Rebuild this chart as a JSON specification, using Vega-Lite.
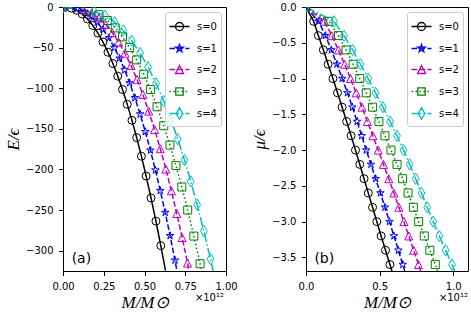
{
  "$schema": "https://vega.github.io/schema/vega-lite/v6.json",
  "background": "white",
  "padding": {"left": 4, "top": 1, "right": 0, "bottom": 0},
  "config": {
    "view": {"stroke": "black", "strokeWidth": 1},
    "axis": {"grid": false, "domain": false, "tickColor": "black", "tickSize": 4.5, "tickWidth": 1, "tickCount": 20, "labelFont": "DejaVu Sans", "labelFontSize": 10, "labelColor": "black", "labelPadding": 5.5, "labelFlush": false, "labelOverlap": false, "titleFont": "Liberation Serif", "titleFontStyle": "italic", "titleFontWeight": "normal", "titleFontSize": 17, "titleColor": "black", "titlePadding": 3}
  },
  "datasets": {
    "d": [
      {"s":"s=0","M":0,"mu":0,"E":0},{"s":"s=0","M":0.052,"mu":-0.2,"E":-1.4},{"s":"s=0","M":0.084,"mu":-0.4,"E":-4.0},{"s":"s=0","M":0.118,"mu":-0.6,"E":-8.6},{"s":"s=0","M":0.150,"mu":-0.8,"E":-14.7},{"s":"s=0","M":0.183,"mu":-1.0,"E":-22.8},{"s":"s=0","M":0.214,"mu":-1.2,"E":-32.1},{"s":"s=0","M":0.245,"mu":-1.4,"E":-43.1},{"s":"s=0","M":0.276,"mu":-1.6,"E":-55.7},{"s":"s=0","M":0.306,"mu":-1.8,"E":-69.6},{"s":"s=0","M":0.336,"mu":-2.0,"E":-85.1},{"s":"s=0","M":0.365,"mu":-2.2,"E":-101.6},{"s":"s=0","M":0.394,"mu":-2.4,"E":-119.8},{"s":"s=0","M":0.423,"mu":-2.6,"E":-139.5},{"s":"s=0","M":0.452,"mu":-2.8,"E":-160.8},{"s":"s=0","M":0.481,"mu":-3.0,"E":-183.7},{"s":"s=0","M":0.510,"mu":-3.2,"E":-208.1},{"s":"s=0","M":0.540,"mu":-3.4,"E":-235.1},{"s":"s=0","M":0.570,"mu":-3.6,"E":-263.6},{"s":"s=0","M":0.600,"mu":-3.8,"E":-293.8},{"s":"s=0","M":0.629,"mu":-4.0,"E":-324.6},
      {"s":"s=1","M":0,"mu":0,"E":0},{"s":"s=1","M":0.085,"mu":-0.2,"E":-2.3},{"s":"s=1","M":0.132,"mu":-0.4,"E":-6.1},{"s":"s=1","M":0.172,"mu":-0.6,"E":-11.6},{"s":"s=1","M":0.210,"mu":-0.8,"E":-18.8},{"s":"s=1","M":0.246,"mu":-1.0,"E":-27.6},{"s":"s=1","M":0.281,"mu":-1.2,"E":-38.1},{"s":"s=1","M":0.315,"mu":-1.4,"E":-50.1},{"s":"s=1","M":0.347,"mu":-1.6,"E":-63.2},{"s":"s=1","M":0.378,"mu":-1.8,"E":-77.5},{"s":"s=1","M":0.409,"mu":-2.0,"E":-93.5},{"s":"s=1","M":0.441,"mu":-2.2,"E":-111.8},{"s":"s=1","M":0.473,"mu":-2.4,"E":-131.8},{"s":"s=1","M":0.505,"mu":-2.6,"E":-153.6},{"s":"s=1","M":0.536,"mu":-2.8,"E":-176.4},{"s":"s=1","M":0.567,"mu":-3.0,"E":-200.8},{"s":"s=1","M":0.597,"mu":-3.2,"E":-226.1},{"s":"s=1","M":0.627,"mu":-3.4,"E":-253.0},{"s":"s=1","M":0.657,"mu":-3.6,"E":-281.6},{"s":"s=1","M":0.687,"mu":-3.8,"E":-311.8},{"s":"s=1","M":0.717,"mu":-4.0,"E":-343.6},
      {"s":"s=2","M":0,"mu":0,"E":0},{"s":"s=2","M":0.125,"mu":-0.2,"E":-3.4},{"s":"s=2","M":0.175,"mu":-0.4,"E":-7.5},{"s":"s=2","M":0.220,"mu":-0.6,"E":-13.6},{"s":"s=2","M":0.262,"mu":-0.8,"E":-21.6},{"s":"s=2","M":0.302,"mu":-1.0,"E":-31.4},{"s":"s=2","M":0.341,"mu":-1.2,"E":-43.1},{"s":"s=2","M":0.380,"mu":-1.4,"E":-56.8},{"s":"s=2","M":0.417,"mu":-1.6,"E":-71.9},{"s":"s=2","M":0.454,"mu":-1.8,"E":-89.1},{"s":"s=2","M":0.490,"mu":-2.0,"E":-107.7},{"s":"s=2","M":0.526,"mu":-2.2,"E":-128.2},{"s":"s=2","M":0.562,"mu":-2.4,"E":-150.7},{"s":"s=2","M":0.597,"mu":-2.6,"E":-174.5},{"s":"s=2","M":0.631,"mu":-2.8,"E":-199.5},{"s":"s=2","M":0.665,"mu":-3.0,"E":-226.3},{"s":"s=2","M":0.698,"mu":-3.2,"E":-254.2},{"s":"s=2","M":0.731,"mu":-3.4,"E":-283.8},{"s":"s=2","M":0.764,"mu":-3.6,"E":-315.2},{"s":"s=2","M":0.797,"mu":-3.8,"E":-348.4},{"s":"s=2","M":0.830,"mu":-4.0,"E":-383.4},
      {"s":"s=3","M":0,"mu":0,"E":0},{"s":"s=3","M":0.155,"mu":-0.2,"E":-4.2},{"s":"s=3","M":0.220,"mu":-0.4,"E":-9.5},{"s":"s=3","M":0.272,"mu":-0.6,"E":-16.6},{"s":"s=3","M":0.320,"mu":-0.8,"E":-25.7},{"s":"s=3","M":0.365,"mu":-1.0,"E":-36.7},{"s":"s=3","M":0.409,"mu":-1.2,"E":-49.9},{"s":"s=3","M":0.452,"mu":-1.4,"E":-65.1},{"s":"s=3","M":0.495,"mu":-1.6,"E":-82.7},{"s":"s=3","M":0.536,"mu":-1.8,"E":-101.6},{"s":"s=3","M":0.577,"mu":-2.0,"E":-122.8},{"s":"s=3","M":0.618,"mu":-2.2,"E":-146.2},{"s":"s=3","M":0.656,"mu":-2.4,"E":-170.0},{"s":"s=3","M":0.693,"mu":-2.6,"E":-195.2},{"s":"s=3","M":0.729,"mu":-2.8,"E":-221.6},{"s":"s=3","M":0.765,"mu":-3.0,"E":-250.0},{"s":"s=3","M":0.803,"mu":-3.2,"E":-282.0},{"s":"s=3","M":0.841,"mu":-3.4,"E":-316.1},{"s":"s=3","M":0.878,"mu":-3.6,"E":-351.4},{"s":"s=3","M":0.914,"mu":-3.8,"E":-387.6},{"s":"s=3","M":0.950,"mu":-4.0,"E":-425.8},
      {"s":"s=4","M":0,"mu":0,"E":0},{"s":"s=4","M":0.190,"mu":-0.2,"E":-5.2},{"s":"s=4","M":0.258,"mu":-0.4,"E":-10.7},{"s":"s=4","M":0.317,"mu":-0.6,"E":-18.7},{"s":"s=4","M":0.370,"mu":-0.8,"E":-28.8},{"s":"s=4","M":0.422,"mu":-1.0,"E":-41.6},{"s":"s=4","M":0.473,"mu":-1.2,"E":-56.8},{"s":"s=4","M":0.522,"mu":-1.4,"E":-74.1},{"s":"s=4","M":0.571,"mu":-1.6,"E":-94.1},{"s":"s=4","M":0.618,"mu":-1.8,"E":-115.9},{"s":"s=4","M":0.662,"mu":-2.0,"E":-138.6},{"s":"s=4","M":0.704,"mu":-2.2,"E":-162.6},{"s":"s=4","M":0.745,"mu":-2.4,"E":-188.3},{"s":"s=4","M":0.784,"mu":-2.6,"E":-214.8},{"s":"s=4","M":0.823,"mu":-2.8,"E":-243.4},{"s":"s=4","M":0.864,"mu":-3.0,"E":-275.8},{"s":"s=4","M":0.905,"mu":-3.2,"E":-310.3},{"s":"s=4","M":0.948,"mu":-3.4,"E":-348.9},{"s":"s=4","M":0.991,"mu":-3.6,"E":-389.9},{"s":"s=4","M":1.033,"mu":-3.8,"E":-432.1},{"s":"s=4","M":1.075,"mu":-4.0,"E":-476.7}
    ],
    "blank": [{}]
  },
  "spacing": 12,
  "resolve": {"legend": {"color": "independent"}},
  "hconcat": [
    {
      "width": 163,
      "height": 264,
      "layer": [
        {
          "data": {"name": "d"},
          "mark": {"type": "line", "strokeWidth": 1.5, "clip": true},
          "encoding": {
            "x": {"field": "M", "type": "quantitative", "scale": {"domain": [0, 1], "nice": false, "zero": false}, "axis": {"values": [0, 0.25, 0.5, 0.75, 1], "tickCount": 20, "format": ".2f", "title": "M/M⊙"}},
            "y": {"field": "E", "type": "quantitative", "scale": {"domain": [-325, 0], "nice": false}, "axis": {"values": [-300, -250, -200, -150, -100, -50, 0], "tickCount": 20, "format": "d", "title": "E/ϵ"}},
            "color": {"field": "s", "type": "nominal", "scale": {"domain": ["s=0", "s=1", "s=2", "s=3", "s=4"], "range": ["#000000", "#0000ff", "#bf00bf", "#008000", "#00bfbf"]},
              "legend": {"orient": "top-right", "offset": 5, "title": null, "padding": 3.5, "strokeColor": "#cccccc", "fillColor": "rgba(255,255,255,0.8)", "cornerRadius": 2.5, "labelFont": "DejaVu Sans", "labelFontSize": 10, "labelColor": "black", "labelOffset": 6.5, "rowPadding": 4, "symbolSize": 400, "symbolStrokeWidth": 1.3, "symbolOffset": 0,
                "encode": {"symbols": {"update": {"fill": {"value": "transparent"}, "shape": {"signal": "datum.value === 's=0' ? 'M-1,0H1M0.4,0A0.4,0.4,0,1,1,-0.4,0A0.4,0.4,0,1,1,0.4,0' : datum.value === 's=1' ? 'M-1,0H-0.445M-0.205,0H0.35M0.59,0H1M0,-0.4L0.0898,-0.1236L0.3804,-0.1236L0.1453,0.0472L0.2351,0.3236L0,0.1528L-0.2351,0.3236L-0.1453,0.0472L-0.3804,-0.1236L-0.0898,-0.1236Z' : datum.value === 's=2' ? 'M-1,0H-0.445M-0.205,0H0.35M0.59,0H1M0,-0.4L0.4,0.4L-0.4,0.4Z' : datum.value === 's=3' ? 'M-1,0H-0.85M-0.6025,0H-0.4525M-0.205,0H-0.055M0.1925,0H0.3425M0.59,0H0.74M0.9875,0H1M-0.37,-0.37H0.37V0.37H-0.37Z' : 'M-1,0H-0.04M0.2,0H0.35M0.59,0H1M0,-0.566L0.34,0L0,0.566L-0.34,0Z'"}}}}}},
            "strokeDash": {"field": "s", "type": "nominal", "scale": {"domain": ["s=0", "s=1", "s=2", "s=3", "s=4"], "range": [[1, 0], [5.55, 2.4], [5.55, 2.4], [1.5, 2.475], [9.6, 2.4, 1.5, 2.4]]}, "legend": null}
          }
        },
        {
          "data": {"name": "d"},
          "transform": [{"filter": "datum.E >= -321"}],
          "mark": {"type": "point", "filled": false, "strokeWidth": 1, "size": 64, "opacity": 1, "clip": true},
          "encoding": {
            "x": {"field": "M", "type": "quantitative"},
            "y": {"field": "E", "type": "quantitative"},
            "color": {"field": "s", "type": "nominal"},
            "shape": {"field": "s", "type": "nominal", "scale": {"domain": ["s=0", "s=1", "s=2", "s=3", "s=4"], "range": ["circle", "M0,-1L0.2245,-0.309L0.9511,-0.309L0.3633,0.118L0.5878,0.809L0,0.382L-0.5878,0.809L-0.3633,0.118L-0.9511,-0.309L-0.2245,-0.309Z", "M0,-1L1,1L-1,1Z", "square", "M0,-1.414L0.849,0L0,1.414L-0.849,0Z"]}, "legend": null}
          }
        },
        {
          "data": {"name": "blank"},
          "mark": {"type": "text", "text": "(a)", "font": "DejaVu Sans", "fontSize": 14, "align": "left", "baseline": "middle", "color": "black"},
          "encoding": {"x": {"datum": 0.053}, "y": {"datum": -310}}
        },
        {
          "data": {"name": "blank"},
          "mark": {"type": "text", "text": "×10¹²", "font": "DejaVu Sans", "fontSize": 10, "align": "right", "baseline": "middle", "dy": 26.5, "dx": -2, "color": "black"},
          "encoding": {"x": {"datum": 1.0}, "y": {"datum": -325}}
        }
      ]
    },
    {
      "width": 162,
      "height": 264,
      "layer": [
        {
          "data": {"name": "d"},
          "mark": {"type": "line", "strokeWidth": 1.5, "clip": true},
          "encoding": {
            "x": {"field": "M", "type": "quantitative", "scale": {"domain": [0, 1.1], "nice": false, "zero": false}, "axis": {"values": [0, 0.5, 1], "tickCount": 20, "format": ".1f", "title": "M/M⊙"}},
            "y": {"field": "mu", "type": "quantitative", "scale": {"domain": [-3.69, 0], "nice": false}, "axis": {"values": [-3.5, -3, -2.5, -2, -1.5, -1, -0.5, 0], "tickCount": 20, "format": ".1f", "title": "μ/ϵ"}},
            "color": {"field": "s", "type": "nominal",
              "legend": {"orient": "top-right", "offset": 5, "title": null, "padding": 3.5, "strokeColor": "#cccccc", "fillColor": "rgba(255,255,255,0.8)", "cornerRadius": 2.5, "labelFont": "DejaVu Sans", "labelFontSize": 10, "labelColor": "black", "labelOffset": 6.5, "rowPadding": 4, "symbolSize": 400, "symbolStrokeWidth": 1.3, "symbolOffset": 0,
                "encode": {"symbols": {"update": {"fill": {"value": "transparent"}, "shape": {"signal": "datum.value === 's=0' ? 'M-1,0H1M0.4,0A0.4,0.4,0,1,1,-0.4,0A0.4,0.4,0,1,1,0.4,0' : datum.value === 's=1' ? 'M-1,0H-0.445M-0.205,0H0.35M0.59,0H1M0,-0.4L0.0898,-0.1236L0.3804,-0.1236L0.1453,0.0472L0.2351,0.3236L0,0.1528L-0.2351,0.3236L-0.1453,0.0472L-0.3804,-0.1236L-0.0898,-0.1236Z' : datum.value === 's=2' ? 'M-1,0H-0.445M-0.205,0H0.35M0.59,0H1M0,-0.4L0.4,0.4L-0.4,0.4Z' : datum.value === 's=3' ? 'M-1,0H-0.85M-0.6025,0H-0.4525M-0.205,0H-0.055M0.1925,0H0.3425M0.59,0H0.74M0.9875,0H1M-0.37,-0.37H0.37V0.37H-0.37Z' : 'M-1,0H-0.04M0.2,0H0.35M0.59,0H1M0,-0.566L0.34,0L0,0.566L-0.34,0Z'"}}}}}},
            "strokeDash": {"field": "s", "type": "nominal", "legend": null}
          }
        },
        {
          "data": {"name": "d"},
          "transform": [{"filter": "datum.mu >= -3.65"}],
          "mark": {"type": "point", "filled": false, "strokeWidth": 1, "size": 64, "opacity": 1, "clip": true},
          "encoding": {
            "x": {"field": "M", "type": "quantitative"},
            "y": {"field": "mu", "type": "quantitative"},
            "color": {"field": "s", "type": "nominal"},
            "shape": {"field": "s", "type": "nominal", "legend": null}
          }
        },
        {
          "data": {"name": "blank"},
          "mark": {"type": "text", "text": "(b)", "font": "DejaVu Sans", "fontSize": 14, "align": "left", "baseline": "middle", "color": "black"},
          "encoding": {"x": {"datum": 0.057}, "y": {"datum": -3.52}}
        },
        {
          "data": {"name": "blank"},
          "mark": {"type": "text", "text": "×10¹²", "font": "DejaVu Sans", "fontSize": 10, "align": "right", "baseline": "middle", "dy": 26.5, "dx": 0, "color": "black"},
          "encoding": {"x": {"datum": 1.1}, "y": {"datum": -3.69}}
        }
      ]
    }
  ]
}
